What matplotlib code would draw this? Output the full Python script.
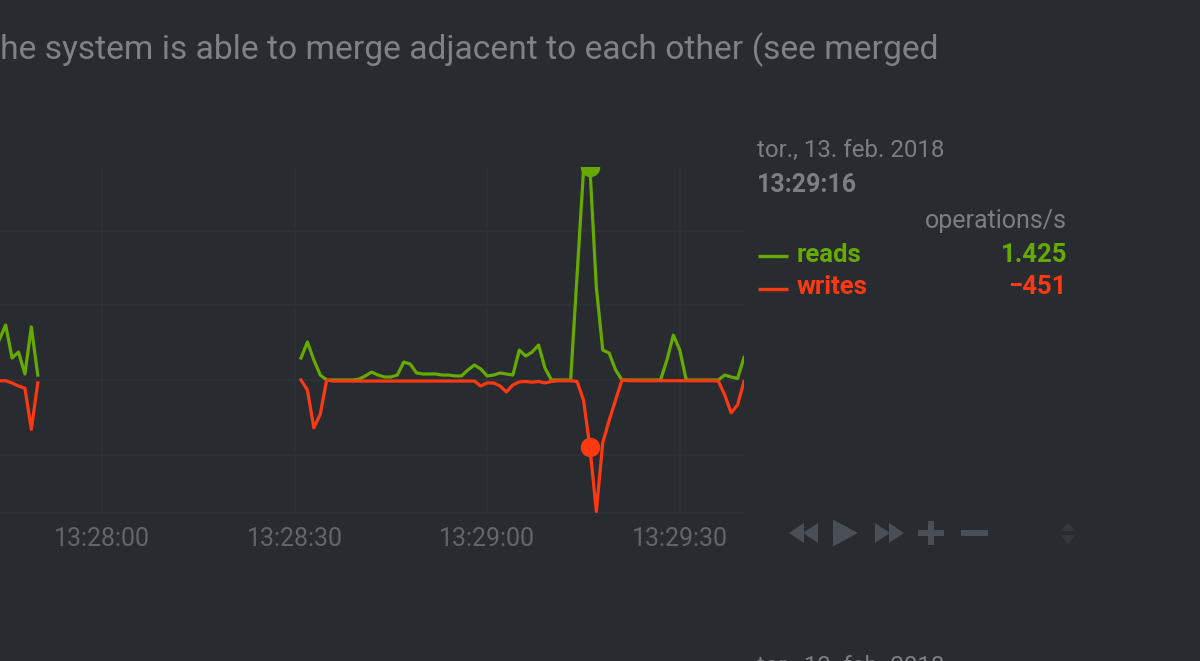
import matplotlib
matplotlib.use("Agg")
import matplotlib.pyplot as plt
from matplotlib.patches import Polygon, Rectangle

# ---- colours -------------------------------------------------------------
BG = "#282c31"
GRID = "#2e3338"
GREEN = "#66aa00"
RED = "#fe3912"
TEXT = "#7b7f84"
TICK = "#62666b"
ICON = "#4a4f55"
FONT = ["Roboto", "DejaVu Sans"]

# ---- data: seconds relative to 13:28:00, operations/s --------------------
seg1_t = [-16, -15, -14, -13, -12, -11, -10]
seg1_reads = [268, 368, 147, 187, 40, 355, 33]
seg1_writes = [-5, -5, -20, -40, -55, -330, -20]

seg2_t = list(range(31, 101))
seg2_reads = [147, 254, 134, 33, 0, 0, 0, 0, 0, 5,
              27, 53, 33, 20, 20, 33, 120, 107, 47, 40,
              40, 40, 33, 33, 27, 27, 67, 100, 74, 27,
              33, 47, 40, 33, 200, 160, 187, 234, 80, 0,
              0, 0, 0, 700, 1400, 1425, 620, 200, 180, 67,
              0, 0, 0, 0, 0, 0, 0, 134, 300, 200,
              0, 0, 0, 0, 0, 0, 33, 20, 10, 150]
seg2_writes = [0, -67, -320, -230, 0, -7, -7, -7, -7, -7,
               -7, -7, -7, -7, -7, -7, -7, -7, -7, -7,
               -7, -7, -7, -7, -7, -7, -7, -7, -40, -20,
               -20, -40, -80, -33, -13, -10, -15, -10, -20, -10,
               -5, -5, -5, -10, -134, -451, -880, -420, -270, -134,
               0, -5, -5, -5, -5, -5, -5, -5, -5, -5,
               -5, -5, -5, -5, -5, -7, -100, -220, -167, -10]

hover_t = 76
hover_time = "13:29:16"
hover_date = "tor., 13. feb. 2018"
units = "operations/s"
dims = ["reads", "writes"]
dim_values = ["1.425", "\u2212451"]
hover_reads = 1425
hover_writes = -451

x_ticks = [0, 30, 60, 90]
x_labels = ["13:28:00", "13:28:30", "13:29:00", "13:29:30"]
y_grid = [-500, 0, 500, 1000]

title = "he system is able to merge adjacent to each other (see merged"

# ---- figure --------------------------------------------------------------
W, H = 1200, 661
fig = plt.figure(figsize=(W / 100, H / 100), dpi=100, facecolor=BG)

# page overlay in pixel coordinates for the surrounding dashboard text
page = fig.add_axes([0, 0, 1, 1], zorder=0)
page.set_xlim(0, W)
page.set_ylim(H, 0)
page.axis("off")
page.set_facecolor(BG)

page.text(0, 50, title, fontsize=24.2, color="#7e8287", family=FONT,
          ha="left", va="center")

page.text(757, 150, hover_date, fontsize=17.3, color=TEXT, family=FONT,
          ha="left", va="center")
page.text(757, 185, hover_time, fontsize=18, color=TEXT, family=FONT,
          ha="left", va="center", fontweight="bold")
page.text(1067, 221, units, fontsize=18, color=TEXT, family=FONT,
          ha="right", va="center")

for i, (name, val, col) in enumerate(zip(dims, dim_values, [GREEN, RED])):
    y = 256 + i * 32.5
    page.plot([758, 788], [y, y], color=col, lw=2.4, solid_capstyle="butt")
    page.text(797, y - 1, name, fontsize=18.5, color=col, family=FONT,
              ha="left", va="center", fontweight="bold")
    page.text(1067, y - 1, val, fontsize=18.5, color=col, family=FONT,
              ha="right", va="center", fontweight="bold")

# next chart's header peeking in at the bottom
page.text(757, 666, hover_date, fontsize=17.3, color=TEXT, family=FONT,
          ha="left", va="center")

# playback / zoom controls
def tri(x0, x1, yc, h, right=True):
    if right:
        pts = [(x0, yc - h / 2), (x1, yc), (x0, yc + h / 2)]
    else:
        pts = [(x1, yc - h / 2), (x0, yc), (x1, yc + h / 2)]
    page.add_patch(Polygon(pts, closed=True, color=ICON, lw=0))

yc = 533
tri(789, 804, yc, 20, right=False)
tri(803, 818, yc, 20, right=False)
tri(833, 858, yc, 27, right=True)
tri(875, 890, yc, 20, right=True)
tri(889, 904, yc, 20, right=True)
page.add_patch(Rectangle((918, yc - 3), 26, 6, color=ICON, lw=0))
page.add_patch(Rectangle((928, yc - 12), 6, 24, color=ICON, lw=0))
page.add_patch(Rectangle((961, yc - 3), 27, 6, color=ICON, lw=0))
# resize handle
page.add_patch(Polygon([(1061, 531), (1068, 522), (1075, 531)], closed=True,
                       color="#34383d", lw=0))
page.add_patch(Polygon([(1061, 535), (1068, 545), (1075, 535)], closed=True,
                       color="#34383d", lw=0))

# ---- chart ---------------------------------------------------------------
top_px, bot_px, right_px = 167, 513, 744
ax = fig.add_axes([0, 1 - bot_px / H, right_px / W, (bot_px - top_px) / H],
                  zorder=1)
ax.set_facecolor("none")
ax.set_xlim(-15.88, 100)
ax.set_ylim(-890, 1425)

for s in ax.spines.values():
    s.set_visible(False)

ax.set_xticks(x_ticks)
ax.set_xticklabels(x_labels)
ax.set_yticks(y_grid)
ax.tick_params(axis="x", length=0, pad=10, labelsize=18, labelcolor=TICK)
ax.tick_params(axis="y", length=0, labelleft=False)
for lab in ax.get_xticklabels():
    lab.set_family(FONT)
ax.grid(True, color=GRID, lw=1.2)
ax.axhline(-890, color=GRID, lw=1.2, clip_on=False)

for t, v in [(seg1_t, seg1_reads), (seg2_t, seg2_reads)]:
    ax.plot(t, v, color=GREEN, lw=2.3, solid_joinstyle="round", zorder=3)
for t, v in [(seg1_t, seg1_writes), (seg2_t, seg2_writes)]:
    ax.plot(t, v, color=RED, lw=2.3, solid_joinstyle="round", zorder=4)

ax.plot([hover_t], [hover_reads], "o", color=GREEN, ms=13, zorder=5)
ax.plot([hover_t], [hover_writes], "o", color=RED, ms=13, zorder=5)

fig.savefig("out.png", dpi=100, facecolor=BG)
